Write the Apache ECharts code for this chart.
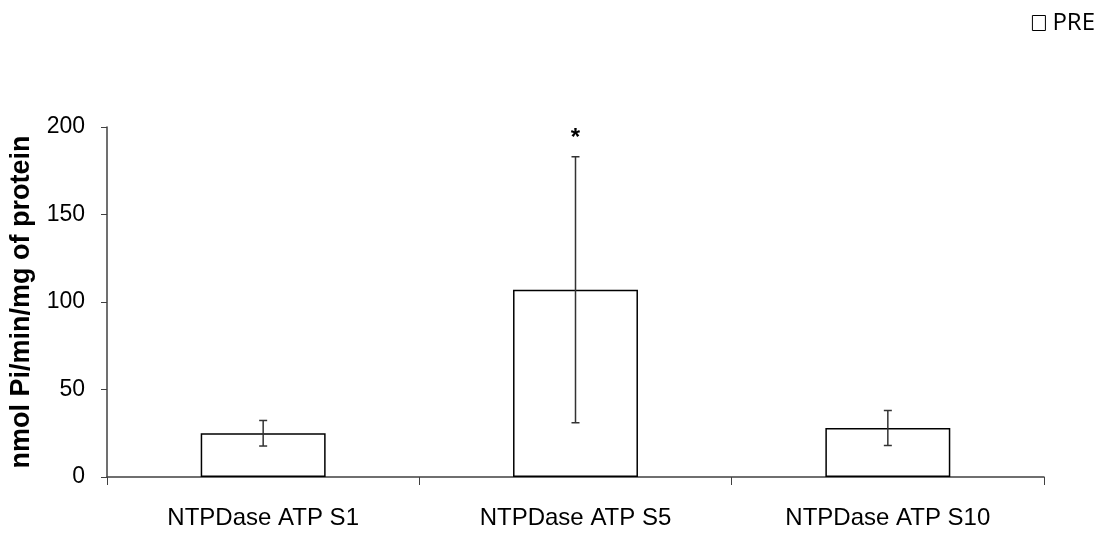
<!DOCTYPE html>
<html>
<head>
    <meta charset="UTF-8">
    <title>NTPDase ATP</title>
    <script type="text/javascript" src="https://cdn.jsdelivr.net/npm/echarts@6/dist/echarts.min.js"></script>
</head>
<body style="margin: 0;padding: 0;">
    <div id="container" style="width:1112px; height:537px;"></div>
    <script>
        // 数据
        var categories = ['NTPDase ATP S1', 'NTPDase ATP S5', 'NTPDase ATP S10'];
        var means = [25, 107, 28];
        var errors = [7.3, 76, 10];
        var stars = ['', '*', ''];
        var yTicks = { min: 0, max: 200, interval: 50 };

        var errData = means.map((m, i) => [i, m - errors[i], m + errors[i], stars[i]]);

        var chart = echarts.init(document.getElementById('container'), null, { renderer: 'canvas' });
        var option = {
            backgroundColor: '#ffffff',
            animation: false,
            textStyle: { fontFamily: 'Liberation Sans, Arial, sans-serif', color: '#000' },
            legend: {
                data: ['PRE'],
                right: 12,
                top: 6,
                icon: 'rect',
                itemWidth: 13,
                itemHeight: 15,
                itemGap: 5,
                textStyle: { fontFamily: 'Open Sans, sans-serif', fontSize: 24, color: '#000', padding: [0, 0, 0, 2] },
                itemStyle: { color: '#fff', borderColor: '#000', borderWidth: 1 }
            },
            grid: { left: 105, right: 68, top: 127, bottom: 60 },
            xAxis: {
                type: 'category',
                data: categories,
                boundaryGap: true,
                axisLine: { lineStyle: { color: '#404040', width: 1.5 } },
                axisTick: { show: true, length: 8, lineStyle: { color: '#404040' } },
                axisLabel: { fontSize: 24, color: '#000', margin: 29 }
            },
            yAxis: {
                type: 'value',
                min: yTicks.min,
                max: yTicks.max,
                interval: yTicks.interval,
                name: 'nmol Pi/min/mg of protein',
                nameLocation: 'middle',
                nameRotate: 90,
                nameGap: 72,
                nameTextStyle: { fontSize: 27, fontWeight: 'bold', color: '#000' },
                axisLine: { show: true, lineStyle: { color: '#404040', width: 1.5 } },
                axisTick: { show: true, length: 6, lineStyle: { color: '#404040' } },
                splitLine: { show: false },
                axisLabel: { fontSize: 23, color: '#000', margin: 22 }
            },
            series: [{
                name: 'PRE',
                type: 'bar',
                data: means,
                barWidth: '40%',
                itemStyle: { color: '#fff', borderColor: '#000', borderWidth: 1.5 }
            }, {
                name: 'err',
                type: 'custom',
                data: errData,
                z: 5,
                renderItem: function (params, api) {
                    var lo = api.coord([api.value(0), api.value(1)]);
                    var hi = api.coord([api.value(0), api.value(2)]);
                    var w = 4;
                    var st = { stroke: '#333', lineWidth: 1.5 };
                    var kids = [
                        { type: 'line', shape: { x1: hi[0], y1: hi[1], x2: lo[0], y2: lo[1] }, style: st },
                        { type: 'line', shape: { x1: hi[0] - w, y1: hi[1], x2: hi[0] + w, y2: hi[1] }, style: st },
                        { type: 'line', shape: { x1: lo[0] - w, y1: lo[1], x2: lo[0] + w, y2: lo[1] }, style: st }
                    ];
                    var s = errData[params.dataIndex][3];
                    if (s) {
                        kids.push({
                            type: 'text',
                            style: { text: s, x: hi[0], y: hi[1] - 6, align: 'center', verticalAlign: 'bottom',
                                     font: 'bold 24px Liberation Sans, Arial', fill: '#000' }
                        });
                    }
                    return { type: 'group', children: kids };
                }
            }]
        };
        chart.setOption(option);
    </script>
</body>
</html>
